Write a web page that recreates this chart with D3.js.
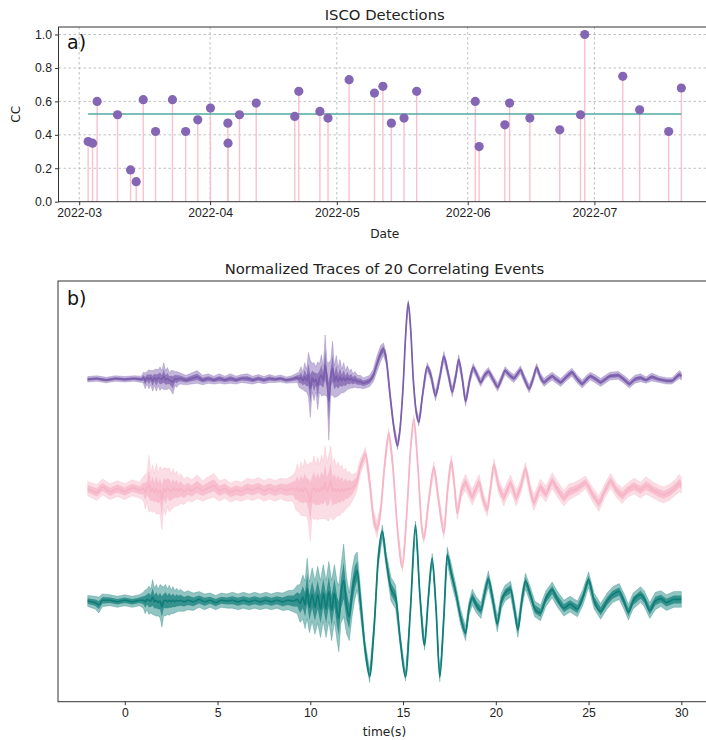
<!DOCTYPE html>
<html>
<head>
<meta charset="utf-8">
<script src="https://cdn.jsdelivr.net/npm/d3@7"></script>
<style>
  body { margin: 0; background: #fff; }
  svg { display: block; font-family: "DejaVu Sans", sans-serif; }
  .grid line { stroke: #b0b0b0; stroke-width: 0.8; stroke-dasharray: 2.5,2.5; }
  .axis path, .axis line { stroke: #333; }
  .axis text { fill: #222; font-size: 12.2px; }
</style>
</head>
<body>
<svg id="chart" width="706" height="740"></svg>
<script>
// top panel: detections
const detDates = [
  "2022-03-03T03:00", "2022-03-04T04:00", "2022-03-05T06:00", "2022-03-10T02:00",
  "2022-03-13T04:00", "2022-03-14T12:00", "2022-03-16T04:00", "2022-03-19T02:00",
  "2022-03-23T02:00", "2022-03-26T05:00", "2022-03-29T02:00", "2022-04-01T02:00",
  "2022-04-05T05:00", "2022-04-05T06:00", "2022-04-07T23:00", "2022-04-11T22:00",
  "2022-04-21T01:00", "2022-04-22T00:00", "2022-04-27T00:00", "2022-04-28T22:00",
  "2022-05-03T22:00", "2022-05-09T22:00", "2022-05-11T22:00", "2022-05-13T22:00",
  "2022-05-16T22:00", "2022-05-19T22:00", "2022-06-02T19:00", "2022-06-03T17:00",
  "2022-06-09T19:00", "2022-06-10T22:00", "2022-06-15T17:00", "2022-06-22T19:00",
  "2022-06-27T17:00", "2022-06-28T17:00", "2022-07-07T17:00", "2022-07-11T17:00",
  "2022-07-18T14:00", "2022-07-21T14:00"
]
const detCC = [
  0.36, 0.35, 0.60, 0.52, 0.19, 0.12, 0.61, 0.42, 0.61, 0.42, 0.49, 0.56,
  0.47, 0.35, 0.52, 0.59, 0.51, 0.66, 0.54, 0.50, 0.73, 0.65, 0.69, 0.47,
  0.50, 0.66, 0.60, 0.33, 0.46, 0.59, 0.50, 0.43, 0.52, 1.00, 0.75, 0.55,
  0.42, 0.68
]
const ccTicks = [0, 0.2, 0.4, 0.6, 0.8, 1.0]

// bottom panel: stacked traces, rows of [time s, amplitude, spread of the 20 traces]
const traceTimeTicks = [0, 5, 10, 15, 20, 25, 30]
const traceOffsets = [0, -1.4, -2.8]
const traceColors = ["#7b5ead", "#f6b4c6", "#0e7d78"]

const trace1 = [
  [-2.0, 0.00, 0.035], [-1.5, 0.01, 0.035], [-1.0, -0.01, 0.035], [-0.5, 0.01, 0.035], [0.0, 0.00, 0.035],
  [0.5, 0.01, 0.035], [0.9, 0.00, 0.04], [1.0, 0.02, 0.07], [1.1, -0.02, 0.10], [1.2, 0.02, 0.08],
  [1.3, 0.00, 0.12], [1.4, 0.02, 0.09], [1.5, -0.02, 0.13], [1.6, 0.02, 0.10], [1.7, -0.01, 0.14],
  [1.8, 0.02, 0.10], [1.9, 0.01, 0.15], [2.0, 0.00, 0.11], [2.1, 0.04, 0.17], [2.2, -0.01, 0.12],
  [2.3, 0.01, 0.14], [2.4, -0.01, 0.10], [2.5, -0.02, 0.13], [2.6, -0.04, 0.15], [2.7, 0.01, 0.09],
  [2.8, 0.00, 0.10], [2.9, 0.01, 0.08], [3.0, 0.01, 0.07], [3.3, -0.01, 0.06], [3.6, 0.01, 0.07],
  [3.9, 0.03, 0.08], [4.2, -0.01, 0.06], [4.5, 0.01, 0.06], [4.8, -0.01, 0.05], [5.1, 0.01, 0.06],
  [5.4, -0.01, 0.05], [5.7, 0.01, 0.06], [6.0, -0.01, 0.05], [6.3, 0.01, 0.05], [6.6, 0.01, 0.06],
  [6.9, -0.01, 0.05], [7.2, 0.01, 0.05], [7.5, -0.01, 0.045], [7.8, 0.01, 0.05], [8.1, 0.00, 0.04],
  [8.4, 0.01, 0.045], [8.7, -0.01, 0.04], [9.0, 0.00, 0.045], [9.3, 0.02, 0.06], [9.4, 0.00, 0.10],
  [9.5, 0.02, 0.14], [9.6, -0.02, 0.11], [9.7, 0.03, 0.18], [9.8, -0.02, 0.14], [9.9, 0.06, 0.28],
  [10.0, -0.12, 0.36], [10.1, 0.02, 0.18], [10.2, -0.03, 0.24], [10.3, 0.00, 0.16], [10.4, -0.08, 0.30],
  [10.5, 0.02, 0.18], [10.6, 0.05, 0.26], [10.7, -0.02, 0.18], [10.8, 0.18, 0.38], [10.9, 0.00, 0.22],
  [11.0, -0.28, 0.49], [11.1, 0.02, 0.22], [11.2, 0.14, 0.34], [11.3, -0.03, 0.20], [11.4, 0.04, 0.26],
  [11.5, -0.03, 0.18], [11.6, 0.03, 0.22], [11.7, -0.02, 0.15], [11.8, 0.02, 0.19], [11.9, -0.02, 0.13],
  [12.0, 0.02, 0.15], [12.1, -0.01, 0.11], [12.2, 0.01, 0.12], [12.3, -0.02, 0.09], [12.4, 0.00, 0.10],
  [12.55, -0.03, 0.08], [12.7, -0.03, 0.08], [12.85, -0.05, 0.07], [13.0, -0.04, 0.07], [13.2, -0.02, 0.07],
  [13.4, 0.05, 0.08], [13.6, 0.20, 0.10], [13.8, 0.33, 0.10], [13.95, 0.38, 0.08], [14.1, 0.25, 0.07],
  [14.3, -0.20, 0.06], [14.5, -0.60, 0.05], [14.7, -0.84, 0.05], [14.85, -0.60, 0.04], [15.0, -0.10, 0.04],
  [15.15, 0.60, 0.03], [15.28, 0.97, 0.03], [15.42, 0.60, 0.03], [15.55, 0.00, 0.04], [15.7, -0.40, 0.05],
  [15.85, -0.54, 0.05], [16.05, -0.20, 0.05], [16.3, 0.16, 0.05], [16.5, 0.05, 0.06], [16.75, -0.21, 0.06],
  [17.0, 0.05, 0.06], [17.2, 0.29, 0.06], [17.45, 0.05, 0.06], [17.65, -0.16, 0.06], [17.85, 0.05, 0.06],
  [18.0, 0.25, 0.06], [18.2, 0.00, 0.06], [18.37, -0.28, 0.06], [18.6, 0.00, 0.06], [18.78, 0.15, 0.05],
  [19.0, 0.05, 0.05], [19.18, -0.04, 0.05], [19.4, 0.05, 0.05], [19.6, 0.10, 0.05], [19.85, 0.00, 0.05],
  [20.1, -0.10, 0.05], [20.3, 0.00, 0.05], [20.5, 0.11, 0.05], [20.75, 0.05, 0.05], [20.97, 0.01, 0.05],
  [21.15, 0.06, 0.05], [21.33, 0.12, 0.05], [21.55, 0.00, 0.05], [21.8, -0.12, 0.05], [22.0, 0.00, 0.05],
  [22.2, 0.15, 0.05], [22.4, 0.03, 0.05], [22.6, -0.04, 0.05], [22.8, 0.00, 0.05], [23.04, 0.04, 0.05],
  [23.25, 0.00, 0.05], [23.5, -0.04, 0.05], [23.8, 0.03, 0.05], [24.1, 0.09, 0.05], [24.4, 0.00, 0.05],
  [24.66, -0.06, 0.05], [24.9, 0.00, 0.05], [25.1, 0.04, 0.05], [25.4, 0.00, 0.05], [25.65, -0.04, 0.05],
  [25.9, 0.00, 0.05], [26.15, 0.04, 0.05], [26.6, 0.05, 0.05], [26.9, 0.00, 0.05], [27.2, -0.06, 0.05],
  [27.5, 0.00, 0.05], [27.8, 0.02, 0.05], [28.1, -0.01, 0.04], [28.4, 0.03, 0.05], [28.8, 0.00, 0.04],
  [29.2, -0.02, 0.04], [29.5, -0.02, 0.04], [29.9, 0.06, 0.05], [30.0, 0.04, 0.05]
]

const trace2 = [
  [-2.0, 0.02, 0.09], [-1.5, -0.03, 0.10], [-1.2, 0.04, 0.10], [-0.8, -0.02, 0.10], [-0.4, 0.02, 0.10],
  [0.0, -0.02, 0.10], [0.4, 0.03, 0.10], [0.8, 0.00, 0.10], [1.0, 0.02, 0.15], [1.1, -0.02, 0.22],
  [1.2, 0.03, 0.18], [1.3, 0.08, 0.36], [1.4, -0.02, 0.24], [1.5, 0.02, 0.30], [1.6, -0.03, 0.24],
  [1.7, 0.02, 0.32], [1.8, -0.04, 0.26], [1.9, 0.00, 0.30], [2.0, -0.12, 0.38], [2.1, 0.02, 0.26],
  [2.2, -0.02, 0.30], [2.3, 0.03, 0.24], [2.4, 0.00, 0.28], [2.5, -0.02, 0.22], [2.6, 0.02, 0.25],
  [2.7, 0.00, 0.20], [2.8, 0.02, 0.22], [2.9, -0.01, 0.18], [3.0, 0.02, 0.19], [3.2, -0.02, 0.16],
  [3.4, 0.02, 0.15], [3.6, -0.01, 0.14], [3.9, 0.04, 0.15], [4.2, -0.01, 0.13], [4.5, 0.03, 0.14],
  [4.8, 0.06, 0.15], [5.1, -0.01, 0.13], [5.4, 0.02, 0.12], [5.7, -0.03, 0.12], [6.0, 0.00, 0.12],
  [6.3, -0.02, 0.12], [6.6, 0.02, 0.13], [6.9, 0.00, 0.13], [7.2, 0.03, 0.13], [7.5, -0.01, 0.13],
  [7.8, 0.02, 0.13], [8.1, -0.01, 0.13], [8.4, 0.02, 0.13], [8.7, 0.00, 0.14], [9.0, 0.02, 0.16],
  [9.1, 0.02, 0.18], [9.2, 0.00, 0.24], [9.3, 0.03, 0.30], [9.4, -0.02, 0.26], [9.5, 0.02, 0.34],
  [9.6, -0.02, 0.30], [9.7, 0.03, 0.36], [9.8, 0.00, 0.32], [9.9, -0.05, 0.38], [10.0, -0.15, 0.50],
  [10.1, 0.00, 0.34], [10.2, 0.03, 0.40], [10.3, -0.02, 0.34], [10.4, 0.02, 0.40], [10.5, -0.02, 0.34],
  [10.6, 0.04, 0.40], [10.7, 0.00, 0.36], [10.8, 0.10, 0.46], [10.9, -0.02, 0.36], [11.0, 0.03, 0.42],
  [11.1, 0.12, 0.44], [11.2, -0.02, 0.36], [11.3, 0.02, 0.38], [11.4, -0.02, 0.32], [11.5, 0.02, 0.34],
  [11.6, -0.02, 0.30], [11.7, 0.02, 0.30], [11.8, -0.02, 0.26], [11.9, 0.02, 0.26], [12.0, 0.00, 0.22],
  [12.1, 0.02, 0.22], [12.2, 0.02, 0.18], [12.3, 0.04, 0.16], [12.5, 0.10, 0.12], [12.7, 0.30, 0.10],
  [12.98, 0.46, 0.08], [13.2, 0.10, 0.10], [13.4, -0.35, 0.10], [13.6, -0.50, 0.10], [13.8, -0.25, 0.08],
  [14.0, 0.30, 0.07], [14.23, 0.72, 0.06], [14.45, 0.30, 0.06], [14.7, -0.50, 0.05], [14.96, -0.98, 0.05],
  [15.2, -0.30, 0.05], [15.4, 0.50, 0.05], [15.58, 0.90, 0.05], [15.8, 0.30, 0.05], [16.0, -0.45, 0.05],
  [16.12, -0.62, 0.05], [16.4, -0.10, 0.06], [16.66, 0.29, 0.07], [16.9, -0.10, 0.07], [17.2, -0.54, 0.07],
  [17.4, 0.00, 0.07], [17.6, 0.37, 0.07], [17.75, 0.10, 0.08], [17.92, -0.29, 0.08], [18.15, 0.00, 0.09],
  [18.37, 0.10, 0.10], [18.55, 0.00, 0.10], [18.73, -0.09, 0.10], [18.9, 0.00, 0.10], [19.1, 0.10, 0.10],
  [19.3, -0.10, 0.09], [19.54, -0.25, 0.08], [19.7, 0.00, 0.08], [19.9, 0.32, 0.08], [20.15, 0.05, 0.09],
  [20.43, -0.10, 0.10], [20.6, 0.00, 0.10], [20.8, 0.09, 0.10], [21.1, -0.10, 0.10], [21.35, 0.05, 0.09],
  [21.6, 0.27, 0.08], [21.85, 0.00, 0.09], [22.05, -0.16, 0.10], [22.4, 0.04, 0.10], [22.7, -0.05, 0.10],
  [23.04, 0.12, 0.10], [23.35, 0.00, 0.10], [23.67, -0.10, 0.10], [23.95, -0.02, 0.10], [24.2, 0.00, 0.09],
  [24.5, 0.04, 0.09], [24.84, 0.10, 0.08], [25.2, -0.05, 0.09], [25.56, -0.17, 0.10], [25.85, -0.02, 0.09],
  [26.19, 0.12, 0.09], [26.5, 0.00, 0.09], [26.82, -0.07, 0.10], [27.1, 0.00, 0.09], [27.45, 0.05, 0.10],
  [27.8, 0.00, 0.10], [28.1, 0.06, 0.11], [28.5, 0.00, 0.10], [28.8, -0.04, 0.10], [29.06, -0.06, 0.10],
  [29.4, -0.02, 0.10], [29.7, 0.04, 0.10], [29.9, 0.09, 0.11], [30.0, 0.06, 0.10]
]

const trace3 = [
  [-2.0, 0.00, 0.07], [-1.6, -0.02, 0.08], [-1.4, -0.05, 0.10], [-1.2, 0.01, 0.08], [-0.8, 0.01, 0.07],
  [-0.4, -0.01, 0.07], [0.0, 0.01, 0.07], [0.4, -0.01, 0.07], [0.8, 0.01, 0.07], [1.0, 0.01, 0.10],
  [1.1, -0.01, 0.15], [1.2, 0.02, 0.13], [1.3, 0.01, 0.18], [1.4, 0.00, 0.15], [1.5, 0.05, 0.22],
  [1.6, -0.01, 0.17], [1.7, 0.01, 0.20], [1.8, -0.02, 0.17], [1.9, 0.00, 0.21], [2.0, -0.07, 0.26],
  [2.1, 0.00, 0.18], [2.2, 0.01, 0.20], [2.3, -0.01, 0.16], [2.4, 0.01, 0.19], [2.5, -0.01, 0.15],
  [2.6, 0.01, 0.17], [2.7, -0.01, 0.14], [2.8, 0.01, 0.15], [2.9, 0.00, 0.13], [3.0, 0.01, 0.14],
  [3.2, -0.01, 0.12], [3.4, 0.01, 0.12], [3.7, -0.01, 0.11], [4.0, 0.02, 0.10], [4.3, -0.01, 0.10],
  [4.6, 0.01, 0.09], [4.9, -0.02, 0.09], [5.2, 0.01, 0.09], [5.5, 0.00, 0.09], [5.8, 0.01, 0.10],
  [6.1, -0.01, 0.10], [6.4, 0.01, 0.10], [6.7, -0.01, 0.10], [7.0, 0.01, 0.10], [7.3, -0.01, 0.10],
  [7.6, 0.01, 0.10], [7.9, -0.01, 0.10], [8.2, 0.01, 0.10], [8.5, -0.01, 0.11], [8.8, 0.01, 0.12],
  [9.1, 0.00, 0.14], [9.3, 0.02, 0.18], [9.45, -0.03, 0.24], [9.6, 0.05, 0.28], [9.72, -0.05, 0.30],
  [9.83, 0.16, 0.38], [9.95, -0.08, 0.32], [10.1, 0.08, 0.34], [10.25, -0.08, 0.34], [10.4, 0.08, 0.36],
  [10.55, -0.10, 0.36], [10.7, 0.10, 0.36], [10.85, -0.10, 0.36], [11.0, 0.12, 0.38], [11.15, -0.12, 0.38],
  [11.3, 0.10, 0.36], [11.45, -0.14, 0.38], [11.54, -0.22, 0.42], [11.65, 0.08, 0.36], [11.8, 0.26, 0.46],
  [11.95, -0.05, 0.36], [12.1, -0.20, 0.30], [12.25, 0.10, 0.30], [12.4, 0.30, 0.28], [12.53, 0.38, 0.24],
  [12.7, 0.00, 0.18], [12.95, -0.60, 0.10], [13.2, -0.95, 0.08], [13.45, -0.30, 0.10], [13.65, 0.50, 0.10],
  [13.88, 0.88, 0.08], [14.1, 0.50, 0.10], [14.35, 0.15, 0.15], [14.6, 0.05, 0.15], [14.85, -0.50, 0.08],
  [15.13, -0.96, 0.05], [15.4, -0.10, 0.05], [15.67, 0.96, 0.05], [15.9, 0.10, 0.06], [16.16, -0.56, 0.06],
  [16.35, 0.00, 0.06], [16.57, 0.54, 0.06], [16.78, -0.10, 0.06], [16.98, -0.96, 0.06], [17.2, -0.20, 0.08],
  [17.38, 0.58, 0.10], [17.6, 0.35, 0.12], [17.85, 0.10, 0.10], [18.1, -0.20, 0.10], [18.37, -0.41, 0.09],
  [18.55, -0.10, 0.09], [18.73, 0.05, 0.10], [18.95, -0.05, 0.10], [19.2, -0.12, 0.10], [19.4, 0.10, 0.10],
  [19.6, 0.28, 0.10], [19.85, 0.00, 0.10], [20.08, -0.29, 0.10], [20.3, 0.00, 0.10], [20.5, 0.10, 0.10],
  [20.8, 0.15, 0.10], [21.0, -0.10, 0.10], [21.19, -0.36, 0.10], [21.4, 0.00, 0.10], [21.6, 0.25, 0.10],
  [21.9, 0.05, 0.10], [22.1, -0.10, 0.10], [22.41, -0.15, 0.10], [22.7, 0.03, 0.10], [23.04, 0.14, 0.10],
  [23.3, 0.03, 0.10], [23.67, -0.09, 0.10], [24.0, -0.04, 0.10], [24.4, -0.10, 0.10], [24.7, 0.05, 0.10],
  [25.0, 0.27, 0.10], [25.3, 0.00, 0.10], [25.65, -0.13, 0.10], [26.0, 0.00, 0.10], [26.3, 0.08, 0.10],
  [26.65, 0.12, 0.10], [26.9, 0.00, 0.10], [27.15, -0.14, 0.10], [27.4, 0.00, 0.10], [27.8, 0.08, 0.10],
  [28.0, 0.03, 0.10], [28.3, -0.12, 0.10], [28.6, 0.00, 0.11], [28.9, 0.03, 0.10], [29.2, -0.02, 0.10],
  [29.6, 0.02, 0.10], [30.0, 0.02, 0.10]
]
const traces = [trace1, trace2, trace3]

const svg = d3.select("#chart")
svg.append("rect").attr("width", 706).attr("height", 740).attr("fill", "#fff")

// ---------- panel a ----------
const boxA = { left: 58.5, right: 711, top: 27, bottom: 201.7 }
const parseTime = d3.timeParse("%Y-%m-%dT%H:%M")
const detections = detDates.map((d, i) => ({ date: parseTime(d), cc: detCC[i] }))

const dateExtent = d3.extent(detections, d => d.date)
const pad = (dateExtent[1] - dateExtent[0]) * 0.05
const x1 = d3.scaleTime()
    .domain([new Date(+dateExtent[0] - pad), new Date(+dateExtent[1] + pad)])
    .range([boxA.left, boxA.right])
const y1 = d3.scaleLinear().domain([0, 1.045]).range([boxA.bottom, boxA.top])

const gA = svg.append("g")

gA.append("g").attr("class", "grid")
    .selectAll("line").data(ccTicks.slice(1)).enter().append("line")
    .attr("x1", boxA.left).attr("x2", boxA.right)
    .attr("y1", d => y1(d)).attr("y2", d => y1(d))

const months = x1.ticks(d3.timeMonth.every(1))
gA.append("g").attr("class", "grid")
    .selectAll("line").data(months).enter().append("line")
    .attr("x1", d => x1(d)).attr("x2", d => x1(d))
    .attr("y1", boxA.top).attr("y2", boxA.bottom)

// stems
gA.selectAll(".stem").data(detections).enter().append("line")
    .attr("class", "stem")
    .attr("x1", d => x1(d.date)).attr("x2", d => x1(d.date))
    .attr("y1", y1(0)).attr("y2", d => y1(d.cc))
    .attr("stroke", "#f9c1ce").attr("stroke-width", 1.4)

// mean line
const meanCC = d3.mean(detCC)
gA.append("line")
    .attr("x1", x1(dateExtent[0])).attr("x2", x1(dateExtent[1]))
    .attr("y1", y1(meanCC)).attr("y2", y1(meanCC))
    .attr("stroke", "#4fa9a3").attr("stroke-width", 1.4)

gA.selectAll(".dot").data(detections).enter().append("circle")
    .attr("class", "dot")
    .attr("cx", d => x1(d.date)).attr("cy", d => y1(d.cc))
    .attr("r", 4.6).attr("fill", "#8466b4")

gA.append("g").attr("class", "axis")
    .attr("transform", `translate(0,${boxA.bottom})`)
    .call(d3.axisBottom(x1).tickValues(months).tickFormat(d3.timeFormat("%Y-%m")).tickSize(3.5).tickPadding(3))
    .call(g => g.select(".domain").remove())

gA.append("g").attr("class", "axis")
    .attr("transform", `translate(${boxA.left},0)`)
    .call(d3.axisLeft(y1).tickValues(ccTicks).tickFormat(d3.format(".1f")).tickSize(3.5).tickPadding(3))
    .call(g => g.select(".domain").remove())

gA.append("rect")
    .attr("x", boxA.left).attr("y", boxA.top)
    .attr("width", boxA.right - boxA.left).attr("height", boxA.bottom - boxA.top)
    .attr("fill", "none").attr("stroke", "#333").attr("stroke-width", 1)

gA.append("text").attr("x", (boxA.left + boxA.right) / 2).attr("y", 20)
    .attr("text-anchor", "middle").attr("font-size", 14.8).attr("fill", "#222")
    .text("ISCO Detections")
gA.append("text").attr("x", (boxA.left + boxA.right) / 2).attr("y", 238)
    .attr("text-anchor", "middle").attr("font-size", 12.2).attr("fill", "#222")
    .text("Date")
gA.append("text").attr("transform", `translate(20,${(boxA.top + boxA.bottom) / 2}) rotate(-90)`)
    .attr("text-anchor", "middle").attr("font-size", 12.2).attr("fill", "#222")
    .text("CC")
gA.append("text").attr("x", 67).attr("y", 49)
    .attr("font-size", 19).attr("fill", "#111")
    .text("a)")

// ---------- panel b ----------
const boxB = { left: 58, right: 711, top: 281, bottom: 701.7 }
const x2 = d3.scaleLinear().domain([-3.6, 31.6]).range([boxB.left, boxB.right])

const yMax = d3.max(traces, (tr, i) => d3.max(tr, d => traceOffsets[i] + d[1] + d[2]))
const yMin = d3.min(traces, (tr, i) => d3.min(tr, d => traceOffsets[i] + d[1] - d[2]))
const yPad = (yMax - yMin) * 0.05
const y2 = d3.scaleLinear().domain([yMin - yPad, yMax + yPad]).range([boxB.bottom, boxB.top])

svg.append("clipPath").attr("id", "clipB")
    .append("rect").attr("x", boxB.left).attr("y", boxB.top)
    .attr("width", boxB.right - boxB.left).attr("height", boxB.bottom - boxB.top)

const gB = svg.append("g").attr("clip-path", "url(#clipB)")

traces.forEach((tr, i) => {
    const off = traceOffsets[i]
    const col = traceColors[i]
    // the band of the 20 traces, with a denser core, then the stack on top
    const outer = d3.area()
        .x(d => x2(d[0]))
        .y0(d => y2(off + d[1] - d[2]))
        .y1(d => y2(off + d[1] + d[2]))
    const inner = d3.area()
        .x(d => x2(d[0]))
        .y0(d => y2(off + d[1] - d[2] * 0.5))
        .y1(d => y2(off + d[1] + d[2] * 0.5))
    const line = d3.line().curve(d3.curveMonotoneX)
        .x(d => x2(d[0]))
        .y(d => y2(off + d[1]))

    gB.append("path").datum(tr).attr("d", outer)
        .attr("fill", col).attr("fill-opacity", 0.45)
        .attr("stroke", col).attr("stroke-opacity", 0.35).attr("stroke-width", 0.8)
    gB.append("path").datum(tr).attr("d", inner)
        .attr("fill", col).attr("fill-opacity", 0.7)
    gB.append("path").datum(tr).attr("d", line)
        .attr("fill", "none").attr("stroke", col).attr("stroke-width", 1.7)
})

svg.append("g").attr("class", "axis")
    .attr("transform", `translate(0,${boxB.bottom})`)
    .call(d3.axisBottom(x2).tickValues(traceTimeTicks).tickFormat(d3.format("d")).tickSize(3.5).tickPadding(3))
    .call(g => g.select(".domain").remove())

svg.append("rect")
    .attr("x", boxB.left).attr("y", boxB.top)
    .attr("width", boxB.right - boxB.left).attr("height", boxB.bottom - boxB.top)
    .attr("fill", "none").attr("stroke", "#333").attr("stroke-width", 1)

svg.append("text").attr("x", (boxB.left + boxB.right) / 2).attr("y", 274)
    .attr("text-anchor", "middle").attr("font-size", 14.8).attr("fill", "#222")
    .text("Normalized Traces of 20 Correlating Events")
svg.append("text").attr("x", (boxB.left + boxB.right) / 2).attr("y", 736)
    .attr("text-anchor", "middle").attr("font-size", 12.2).attr("fill", "#222")
    .text("time(s)")
svg.append("text").attr("x", 67).attr("y", 305)
    .attr("font-size", 19).attr("fill", "#111")
    .text("b)")
</script>
</body>
</html>
